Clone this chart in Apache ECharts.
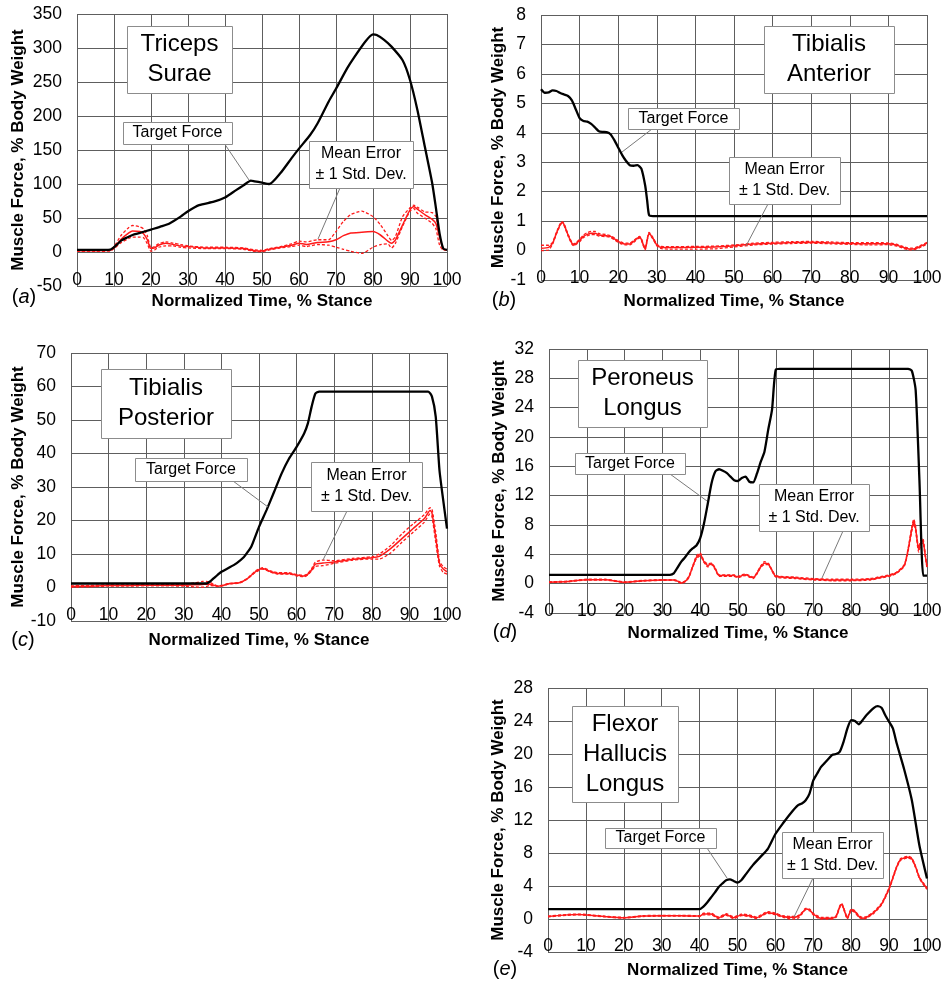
<!DOCTYPE html>
<html><head><meta charset="utf-8">
<script src="https://cdn.jsdelivr.net/npm/echarts@6/dist/echarts.min.js"></script>
<style>html,body{margin:0;padding:0;background:#fff;}#c{width:945px;height:983px;}</style>
</head><body><div id="c"></div>
<script>
// ---------- (a) Triceps Surae ----------
const aTargetX = [0,5,9,10,11,12,13,15,17,20,23,25,28,30,33,37,40,43,45,47,48,50,52,55,58,60,63,65,68,70,73,75,78,80,81,83,85,88,90,92,94,96,97,98,99,100];
const aTargetY = [3,3,3.5,7,12,17,20,25,28,33,38,42,52,60,69,74,80,91,98,105,104,102,100,116,138,152,172,189,221,240,270,287,310,320,319,312,302,282,253,209,155,101,65,27,5,3];
const aErrX    = [0,5,9,10,12,14,15,17,18,19,20,21,22,24,26,28,30,35,40,45,48,50,52,55,58,60,62,65,68,70,72,74,77,80,82,84,85,86,88,90,91,92,94,96,97,98,99,100];
const aErrMean = [2,2,2.5,6,19,28,31,30,27,18,5,6,10,13,11,9,8,6,6,5,2,1.5,4,7,10,13,11,14,15,18,24,28,29,30,25,16,13,17,40,62,67,63,55,48,42,22,4,3];
const aErrUp   = [3,3,3.5,8,25,36,39,37,34,24,6,8,12,15,13,11,9,7,7,6,3,2.5,5,8,12,16,15,18,18,30,45,55,60,52,40,24,17,22,52,65,69,66,59,58,52,25,5,3];
const aErrLo   = [1,1,1.5,5,14,20,22,22,21,12,1,3,7,9,9,7,6,5,5,4,1,0.5,3,6,8,10,8,11,10,7,4,1,-2,7,11,12,6,12,38,60,64,57,50,42,34,10,3,3];

// ---------- (b) Tibialis Anterior ----------
const bTargetX = [0,1,2,3,4,5,6,7,8,9,10,11,12,13,14,15,16,17,18,19,20,21,22,23,24,25,26,27,27.5,28,29,100];
const bTargetY = [5.48,5.36,5.37,5.44,5.42,5.35,5.3,5.25,5.1,4.8,4.5,4.4,4.38,4.3,4.18,4.05,4.03,4.02,3.95,3.75,3.5,3.25,3.05,2.9,2.88,2.9,2.78,2.2,1.7,1.2,1.17,1.17];
const bErrX    = [0,2,3,4,5,5.5,6,7,8,8.5,9,10,11,12,13,14,15,17,18,19,20,21,22,23,24,25,25.5,26,26.5,27,27.5,28,29,30,31,33,40,45,50,55,60,65,70,75,80,85,90,92,94,95,96,97,98,100];
const bErrMean = [0.08,0.11,0.25,0.59,0.89,0.95,0.87,0.53,0.25,0.19,0.23,0.34,0.48,0.55,0.59,0.59,0.53,0.5,0.48,0.4,0.31,0.25,0.22,0.22,0.31,0.42,0.45,0.38,0.19,0.05,0.36,0.59,0.42,0.19,0.11,0.1,0.11,0.12,0.16,0.22,0.25,0.27,0.28,0.26,0.24,0.23,0.23,0.19,0.1,0.06,0.05,0.07,0.12,0.25];
const bErrUp   = [0.18,0.18,0.28,0.62,0.92,0.98,0.9,0.56,0.28,0.22,0.26,0.38,0.53,0.61,0.65,0.65,0.58,0.54,0.51,0.43,0.34,0.28,0.25,0.25,0.34,0.45,0.48,0.41,0.22,0.08,0.39,0.62,0.45,0.22,0.14,0.13,0.14,0.15,0.19,0.25,0.28,0.3,0.31,0.29,0.27,0.27,0.26,0.22,0.13,0.09,0.08,0.1,0.15,0.28];
const bErrLo   = [0.0,0.02,0.22,0.56,0.86,0.92,0.84,0.5,0.22,0.16,0.2,0.3,0.44,0.5,0.54,0.54,0.49,0.47,0.45,0.37,0.28,0.22,0.19,0.19,0.28,0.39,0.42,0.35,0.16,0.02,0.33,0.56,0.39,0.16,0.07,0.05,0.05,0.06,0.12,0.19,0.22,0.24,0.25,0.23,0.21,0.19,0.2,0.16,0.07,0.03,0.02,0.04,0.09,0.22];

// ---------- (c) Tibialis Posterior ----------
const cTargetX = [0,36,37,38,39,40,42,44,46,47,48,50,52,54,56,58,60,62,63,64,65,66,95,96,97,98,99,100];
const cTargetY = [1.2,1.2,1.8,2.8,3.8,4.7,5.9,7.2,9.1,10.6,12.3,18.1,23.1,28.5,34,38.5,42,46,49,54,57.9,58.5,58.5,57,51,35,26,17.6];
const cErrX    = [0,5,10,15,20,25,30,33,35,36,37,38,39,40,42,45,47,49,51,53,55,58,60,62,63,64,65,67,70,75,80,82,85,88,91,94,95.5,96,97,98,99,100];
const cErrMean = [0.3,0.4,0.6,0.6,0.7,0.7,0.7,0.8,0.9,1.0,1.0,0.7,0.4,0.5,1.1,1.5,2.7,4.7,5.7,4.8,4.2,4.2,3.7,3.4,4.0,5.3,7.0,7.3,7.6,8.4,8.9,9.3,11.6,14.6,17.6,20.6,23,22.3,15,7.2,5.5,4.7];
const cErrUp   = [0.5,0.6,0.8,0.8,0.9,0.9,1.0,1.4,1.8,1.8,1.5,0.9,0.5,0.6,1.2,1.6,2.8,4.9,5.9,5.0,4.4,4.4,3.9,3.6,4.2,5.6,7.6,8.2,8.0,8.7,9.2,10,12.5,16,19,21.8,23.8,23.5,16.5,8,6.2,5.5];
const cErrLo   = [0.1,0.2,0.4,0.4,0.5,0.5,0.4,0.2,0.1,0.3,0.6,0.5,0.3,0.4,1.0,1.4,2.6,4.5,5.5,4.6,4.0,4.0,3.5,3.2,3.8,5.0,6.3,6.5,7.2,8.2,8.5,8.5,10.3,13.5,16.5,19.5,22,21.2,13.5,6.4,4.5,4.0];

// ---------- (d) Peroneus Longus ----------
const dTargetX = [0,32,33,34,35,36,37,38,39,40,41,42,43,44,45,46,47,48,49,50,51,52,53,54,55,56,57,58,59,59.5,60,61,95,96,97,98,99,100];
const dTargetY = [1.2,1.2,1.4,2.2,3.0,3.6,4.3,4.8,5.2,6.2,8.2,10.9,13.7,15.3,15.6,15.4,15.1,14.6,14.1,14.0,14.4,14.6,13.9,13.8,15.0,16.6,18.0,21.0,23.7,27,29.2,29.3,29.3,29.0,26.4,14.1,1.1,1.1];
const dErrX    = [0,5,10,15,20,25,30,33,34,35,36,37,38,39,40,41,42,43,44,45,47,49,50,51,52,53,54,55,56,57,58,59,60,65,70,75,80,85,88,90,92,94,95,96,96.5,97,97.8,98.3,98.9,99.5,100];
const dErrMean = [0.2,0.3,0.55,0.55,0.2,0.4,0.5,0.5,0.35,0.1,0.3,0.9,2.3,3.6,4.0,3.0,2.5,2.7,2.0,1.1,1.1,1.1,0.9,1.1,1.2,1.0,0.8,1.4,2.3,2.8,2.7,1.8,1.0,0.8,0.6,0.5,0.5,0.6,0.9,1.1,1.5,2.5,4.6,7.5,8.5,7.5,4.6,5.5,5.9,4.0,2.3];
const dErrUp   = [0.25,0.35,0.6,0.6,0.25,0.45,0.55,0.55,0.4,0.15,0.35,1.0,2.4,3.8,4.2,3.1,2.7,2.8,2.1,1.2,1.2,1.2,1.0,1.2,1.3,1.1,0.9,1.5,2.4,3.0,2.8,1.9,1.1,0.9,0.7,0.6,0.6,0.7,1.0,1.2,1.6,2.6,4.8,7.8,8.8,7.8,4.9,5.8,6.2,4.2,2.5];
const dErrLo   = [0.15,0.25,0.5,0.5,0.15,0.35,0.45,0.45,0.3,0.05,0.25,0.8,2.2,3.4,3.8,2.9,2.3,2.6,1.9,1.0,1.0,1.0,0.8,1.0,1.1,0.9,0.7,1.3,2.2,2.6,2.6,1.7,0.9,0.7,0.5,0.4,0.4,0.5,0.8,1.0,1.4,2.4,4.4,7.2,8.2,7.2,4.3,5.2,5.6,3.8,2.1];

// ---------- (e) Flexor Hallucis Longus ----------
const eTargetX = [0,40,41,42,43,44,45,46,47,48,49,50,51,52,54,56,58,60,62,64,66,67,68,69,70,71,72,73,75,76,77,78,79,80,81,82,83,84,86,87,88,89,90,91,92,94,96,98,100];
const eTargetY = [1.2,1.2,1.5,2.0,2.6,3.2,3.85,4.3,4.7,4.8,4.6,4.4,4.7,5.3,6.5,7.5,8.5,10.3,11.6,12.8,13.8,14.0,14.4,15.2,16.8,17.6,18.4,18.9,19.9,20.0,20.3,21.5,23.1,24.1,24.0,23.6,24.1,24.7,25.6,25.8,25.6,24.7,23.9,23.1,21.3,18.1,14.4,8.9,4.9];
const eErrX    = [0,5,8,10,15,20,25,30,35,40,41,43,45,47,49,51,53,55,58,60,62,64,66,67,68,69,70,72,75,76,77,77.5,78,79,80,81,82,83,84,86,88,90,91,92,93,94,95,96,97,98,99,100];
const eErrMean = [0.3,0.5,0.55,0.5,0.3,0.15,0.35,0.4,0.4,0.35,0.6,0.6,0.15,0.55,0.15,0.5,0.4,0.15,0.8,0.6,0.3,0.2,0.3,0.7,1.2,1.1,0.6,0.1,0.1,0.3,1.5,1.8,1.3,0.1,1.1,0.9,0.3,0.1,0.2,0.8,1.8,3.7,5.0,6.3,7.2,7.4,7.5,7.3,6.3,5.0,4.3,3.7];
const eErrUp   = [0.35,0.55,0.6,0.55,0.35,0.2,0.4,0.45,0.45,0.4,0.7,0.7,0.25,0.65,0.25,0.6,0.5,0.25,0.9,0.7,0.4,0.3,0.4,0.8,1.3,1.2,0.7,0.2,0.2,0.4,1.6,1.9,1.4,0.2,1.2,1.0,0.4,0.2,0.3,0.9,1.9,3.8,5.1,6.4,7.3,7.5,7.6,7.4,6.4,5.1,4.4,3.8];
const eErrLo   = [0.25,0.45,0.5,0.45,0.25,0.1,0.3,0.35,0.35,0.3,0.5,0.5,0.05,0.45,0.05,0.4,0.3,0.05,0.7,0.5,0.2,0.0,0.1,0.6,1.1,1.0,0.5,0.0,0.0,0.2,1.4,1.7,1.2,0.0,1.0,0.8,0.2,0.0,0.1,0.7,1.7,3.6,4.9,6.2,7.1,7.3,7.4,7.2,6.2,4.9,4.2,3.6];

// ---------- text ----------
const muscleNames = ['Triceps\nSurae','Tibialis\nAnterior','Tibialis\nPosterior','Peroneus\nLongus','Flexor\nHallucis\nLongus'];
const panelTags = ['a','b','c','d','e'];
const yAxisTitle = 'Muscle Force, % Body Weight';
const xAxisTitle = 'Normalized Time, % Stance';
const targetLabel = 'Target Force';
const errorLabel = 'Mean Error\n± 1 Std. Dev.';

const FONT = '"Liberation Sans", Arial, sans-serif';
const pair = (xs, ys) => xs.map((x, i) => [x, ys[i]]);

const panels = [
  {tx:aTargetX, ty:aTargetY, ex:aErrX, em:aErrMean, eu:aErrUp, el:aErrLo, ymin:-50, ymax:350, yint:50,
   grid:{left:77, top:14, width:370, height:272}, yGap:50, xGap:7, lblMargin:3,
   title:[127,26,105,67], tf:[123,122,109,22], me:[309,141,104,47], tfl:[224,143,249,180], mel:[340,188,318,239], tag:[24,297]},
  {tx:bTargetX, ty:bTargetY, ex:bErrX, em:bErrMean, eu:bErrUp, el:bErrLo, ymin:-1, ymax:8, yint:1,
   grid:{left:541, top:15, width:386, height:265}, yGap:34, xGap:13, lblMargin:7,
   title:[764,26,130,67], tf:[628,108,111,21], me:[729,157,111,47], tfl:[652,129,622,152], mel:[768,204,746,246], tag:[504,300]},
  {tx:cTargetX, ty:cTargetY, ex:cErrX, em:cErrMean, eu:cErrUp, el:cErrLo, ymin:-10, ymax:70, yint:10,
   grid:{left:71, top:353, width:376, height:268}, yGap:44, xGap:11, lblMargin:3,
   title:[101,369,130,69], tf:[135,458,112,23], me:[311,462,111,49], tfl:[233,481,268,507], mel:[347,511,323,560], tag:[23,640]},
  {tx:dTargetX, ty:dTargetY, ex:dErrX, em:dErrMean, eu:dErrUp, el:dErrLo, ymin:-4, ymax:32, yint:4,
   grid:{left:549, top:349, width:378, height:264}, yGap:41, xGap:12, lblMargin:7,
   title:[578,360,129,67], tf:[575,453,110,21], me:[759,484,110,47], tfl:[670,474,707,501], mel:[843,531,822,578], tag:[505,632]},
  {tx:eTargetX, ty:eTargetY, ex:eErrX, em:eErrMean, eu:eErrUp, el:eErrLo, ymin:-4, ymax:28, yint:4,
   grid:{left:548, top:688, width:379, height:264}, yGap:41, xGap:10, lblMargin:3,
   title:[572,706,106,96], tf:[605,828,111,20], me:[782,832,101,46], tfl:[707,848,727,878], mel:[813,878,794,917], tag:[505,969]}
];

const grids = [], xAxes = [], yAxes = [], series = [], graphics = [];
const GRID_COLOR = '#5e5e5e';
const RED = '#ff1a1a';

panels.forEach((p, i) => {
  grids.push(Object.assign({containLabel:false}, p.grid));
  xAxes.push({
    type:'value', gridIndex:i, min:0, max:100, interval:10,
    axisLine:{show:false}, axisTick:{show:false},
    splitLine:{show:true, lineStyle:{color:GRID_COLOR, width:1}},
    axisLabel:{color:'#000', fontSize:17.5, fontFamily:FONT, margin:p.lblMargin, verticalAlign:'bottom', showMinLabel:true, showMaxLabel:true},
    name:xAxisTitle, nameLocation:'middle', nameGap:p.xGap,
    nameTextStyle:{color:'#000', fontSize:17, fontWeight:'bold', fontFamily:FONT, verticalAlign:'top'}
  });
  yAxes.push({
    type:'value', gridIndex:i, min:p.ymin, max:p.ymax, interval:p.yint,
    axisLine:{show:false}, axisTick:{show:false},
    splitLine:{show:true, lineStyle:{color:GRID_COLOR, width:1}},
    axisLabel:{color:'#000', fontSize:17.5, fontFamily:FONT, margin:15, showMinLabel:true, showMaxLabel:true},
    name:yAxisTitle, nameLocation:'middle', nameRotate:90, nameGap:p.yGap,
    nameTextStyle:{color:'#000', fontSize:17, fontWeight:'bold', fontFamily:FONT}
  });
  const base = {type:'line', xAxisIndex:i, yAxisIndex:i, showSymbol:false, symbol:'none', smooth:0.2, animation:false, silent:true};
  series.push(Object.assign({}, base, {name:'up'+i, data:pair(p.ex, p.eu), lineStyle:{color:RED, width:1.3, type:[3,2]}, z:3}));
  series.push(Object.assign({}, base, {name:'lo'+i, data:pair(p.ex, p.el), lineStyle:{color:RED, width:1.3, type:[3,2]}, z:3}));
  series.push(Object.assign({}, base, {name:'mean'+i, data:pair(p.ex, p.em), lineStyle:{color:RED, width:1.5}, z:4}));
  series.push(Object.assign({}, base, {name:'target'+i, data:pair(p.tx, p.ty), lineStyle:{color:'#000', width:2.3}, z:5}));

  // leader lines
  [p.tfl, p.mel].forEach(l => graphics.push({type:'line', z:100, silent:true,
    shape:{x1:l[0], y1:l[1], x2:l[2], y2:l[3]}, style:{stroke:'#7a7a7a', lineWidth:1}}));
  // boxes
  const box = (r, txt, fs, lh) => {
    graphics.push({type:'rect', z:101, silent:true, shape:{x:r[0]+0.5, y:r[1]+0.5, width:r[2], height:r[3]},
      style:{fill:'#fff', stroke:'#8c8c8c', lineWidth:1}});
    graphics.push({type:'text', z:102, silent:true, x:r[0]+r[2]/2, y:r[1]+r[3]/2,
      style:{text:txt, fill:'#000', fontSize:fs, fontFamily:FONT, align:'center', verticalAlign:'middle', lineHeight:lh}});
  };
  box(p.title, muscleNames[i], 24, 30);
  box(p.tf, targetLabel, 16, 20);
  box(p.me, errorLabel, 16, 21);
  // panel tag
  graphics.push({type:'text', z:102, silent:true, x:p.tag[0], y:p.tag[1],
    style:{text:'{n|(}{i|' + panelTags[i] + '}{n|)}', align:'center', verticalAlign:'middle',
      rich:{n:{fontSize:20, fontFamily:FONT, fill:'#000'}, i:{fontSize:20, fontFamily:FONT, fontStyle:'italic', fill:'#000'}}}});
});

const chart = echarts.init(document.getElementById('c'));
chart.setOption({
  backgroundColor:'#fff', animation:false,
  grid:grids, xAxis:xAxes, yAxis:yAxes, series:series, graphic:graphics
});
</script></body></html>
